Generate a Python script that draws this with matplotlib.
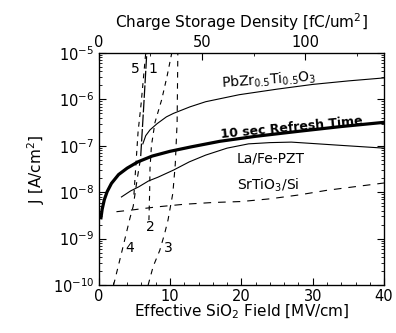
import matplotlib
matplotlib.use("Agg")
import matplotlib.pyplot as plt
from matplotlib.ticker import FixedLocator, LogLocator, NullFormatter, MultipleLocator

plt.rcParams['font.family'] = ['DejaVu Sans']
plt.rcParams['mathtext.default'] = 'regular'
plt.rcParams['lines.scale_dashes'] = False

# ---- data (field E in MV/cm, J in A/cm^2) ----
refresh_E = [0.3, 0.5, 0.8, 1.2, 1.8, 2.8, 4.0, 5.5, 7.5, 10, 13, 17, 22, 28, 34, 40]
refresh_J = [2.6e-9, 4.3e-9, 6.9e-9, 1.03e-8, 1.55e-8, 2.4e-8, 3.3e-8, 4.5e-8, 6.0e-8,
             7.6e-8, 9.5e-8, 1.25e-7, 1.6e-7, 2.05e-7, 2.6e-7, 3.2e-7]

pzt_E = [6.2, 6.6, 7.2, 8.2, 9.5, 10.5, 12.8, 15, 19.7, 25, 30, 35, 40]
pzt_J = [1.1e-7, 1.65e-7, 2.2e-7, 3.0e-7, 4.2e-7, 5.0e-7, 6.9e-7, 8.9e-7, 1.26e-6,
         1.66e-6, 2.1e-6, 2.5e-6, 2.9e-6]

lafe_E = [3.2, 4.5, 5.6, 7, 8.3, 10.5, 12.7, 15, 18, 21, 24, 27, 30, 34, 40]
lafe_J = [7.9e-9, 1.07e-8, 1.3e-8, 1.75e-8, 2.1e-8, 3.0e-8, 4.5e-8, 6.3e-8, 8.9e-8,
          1.1e-7, 1.17e-7, 1.2e-7, 1.12e-7, 1.02e-7, 8.9e-8]

sto_E = [2.5, 5, 8, 12, 16, 20, 24, 28, 32, 36, 40]
sto_J = [3.8e-9, 4.2e-9, 4.8e-9, 5.5e-9, 6.0e-9, 6.3e-9, 7.2e-9, 8.7e-9, 1.1e-8, 1.32e-8, 1.58e-8]

c4_E = [2.1, 3.3, 4.4, 4.85, 5.4, 5.95]
c4_J = [1e-10, 5.6e-10, 2.8e-9, 5.0e-9, 1.9e-8, 6.3e-8]
c5_E = [5.9, 6.3, 6.75]
c5_J = [6.0e-8, 6.3e-7, 1e-5]
c1_E = [4.95, 5.25, 5.53, 5.95, 6.6]
c1_J = [8.9e-9, 4.5e-8, 2.0e-7, 7.9e-7, 1e-5]
c2_E = [7.05, 7.15, 7.2, 7.4, 7.9, 8.85, 9.6, 10.25]
c2_J = [2.5e-9, 1e-8, 3.2e-8, 1e-7, 3.2e-7, 1e-6, 3.2e-6, 1e-5]
c3_E = [6.94, 7.64, 8.57, 9.26, 9.72, 10.4, 10.74, 11.0, 11.1]
c3_J = [1e-10, 2.5e-10, 5.6e-10, 1.3e-9, 2.5e-9, 9.5e-9, 4.0e-8, 3.2e-7, 1e-5]

curve_labels = ['5', '1', '4', '2', '3']
curve_label_E = [5.1, 7.6, 4.4, 7.2, 9.7]
curve_label_J = [4.5e-6, 4.5e-6, 6.3e-10, 1.8e-9, 6.3e-10]

x_ticks = [0, 10, 20, 30, 40]
top_ticks = [0, 50, 100]
top_minor = [25, 75, 125]
EPS_SIO2 = 3.45  # fC/um^2 per MV/cm

fig = plt.figure(figsize=(3.96, 3.33), dpi=100)
ax = fig.add_axes([0.249, 0.144, 0.721, 0.697])

ax.plot(refresh_E, refresh_J, color='black', lw=2.3, solid_capstyle='butt')
ax.plot(pzt_E, pzt_J, color='black', lw=0.8)
ax.plot(lafe_E, lafe_J, color='black', lw=0.8)
ax.plot(sto_E, sto_J, color='black', lw=0.8, dashes=(5.5, 5))
ax.plot(c4_E, c4_J, color='black', lw=0.8, dashes=(4, 4))
ax.plot(c5_E, c5_J, color='black', lw=0.9, dashes=(9, 1.5))
ax.plot(c1_E, c1_J, color='black', lw=0.8, dashes=(3.5, 3.5))
ax.plot(c2_E, c2_J, color='black', lw=0.8, dashes=(3.5, 3.5))
ax.plot(c3_E, c3_J, color='black', lw=0.8, dashes=(4, 4))

ax.set_yscale('log')
ax.set_xlim(0, 40)
ax.set_ylim(1e-10, 1e-5)

fs = 10.5
lfs = 11
ax.set_xticks(x_ticks)
ax.xaxis.set_minor_locator(MultipleLocator(2))
ax.yaxis.set_major_locator(LogLocator(base=10, numticks=10))
ax.yaxis.set_minor_locator(LogLocator(base=10, subs=range(2, 10), numticks=10))
ax.yaxis.set_minor_formatter(NullFormatter())
ax.tick_params(which='both', direction='in', top=False, right=True, labelsize=fs)
ax.tick_params(which='major', length=5, width=0.8, pad=3)
ax.tick_params(which='minor', length=2.5, width=0.6)
for s in ax.spines.values():
    s.set_linewidth(0.9)

ax2 = ax.twiny()
xl = ax.get_xlim()
ax2.set_xlim(xl[0] * EPS_SIO2, xl[1] * EPS_SIO2)
ax2.set_xticks(top_ticks)
ax2.xaxis.set_minor_locator(FixedLocator(top_minor))
ax2.tick_params(which='both', direction='in', labelsize=fs)
ax2.tick_params(which='major', length=5, width=0.8, pad=2)
ax2.tick_params(which='minor', length=2.5, width=0.6)
ax2.set_xlabel('Charge Storage Density [fC/um$^2$]', fontsize=lfs, labelpad=5)

ax.set_xlabel('Effective SiO$_2$ Field [MV/cm]', fontsize=lfs, labelpad=-1)
ax.set_ylabel('J [A/cm$^2$]', fontsize=lfs, labelpad=4)

tfs = 10
ax.text(17.1, 2.6e-6, 'PbZr$_{0.5}$Ti$_{0.5}$O$_3$', fontsize=tfs, rotation=4,
        va='center', ha='left')
ax.text(17.0, 2.5e-7, '10 sec Refresh Time', fontsize=9, rotation=5.5,
        va='center', ha='left', fontweight='bold')
ax.text(19.3, 5.4e-8, 'La/Fe-PZT', fontsize=tfs, va='center', ha='left')
ax.text(19.4, 1.4e-8, 'SrTiO$_3$/Si', fontsize=tfs, va='center', ha='left')

for lab, e, j in zip(curve_labels, curve_label_E, curve_label_J):
    ax.text(e, j, lab, fontsize=tfs, ha='center', va='center')

fig.savefig('out.png', dpi=100)
